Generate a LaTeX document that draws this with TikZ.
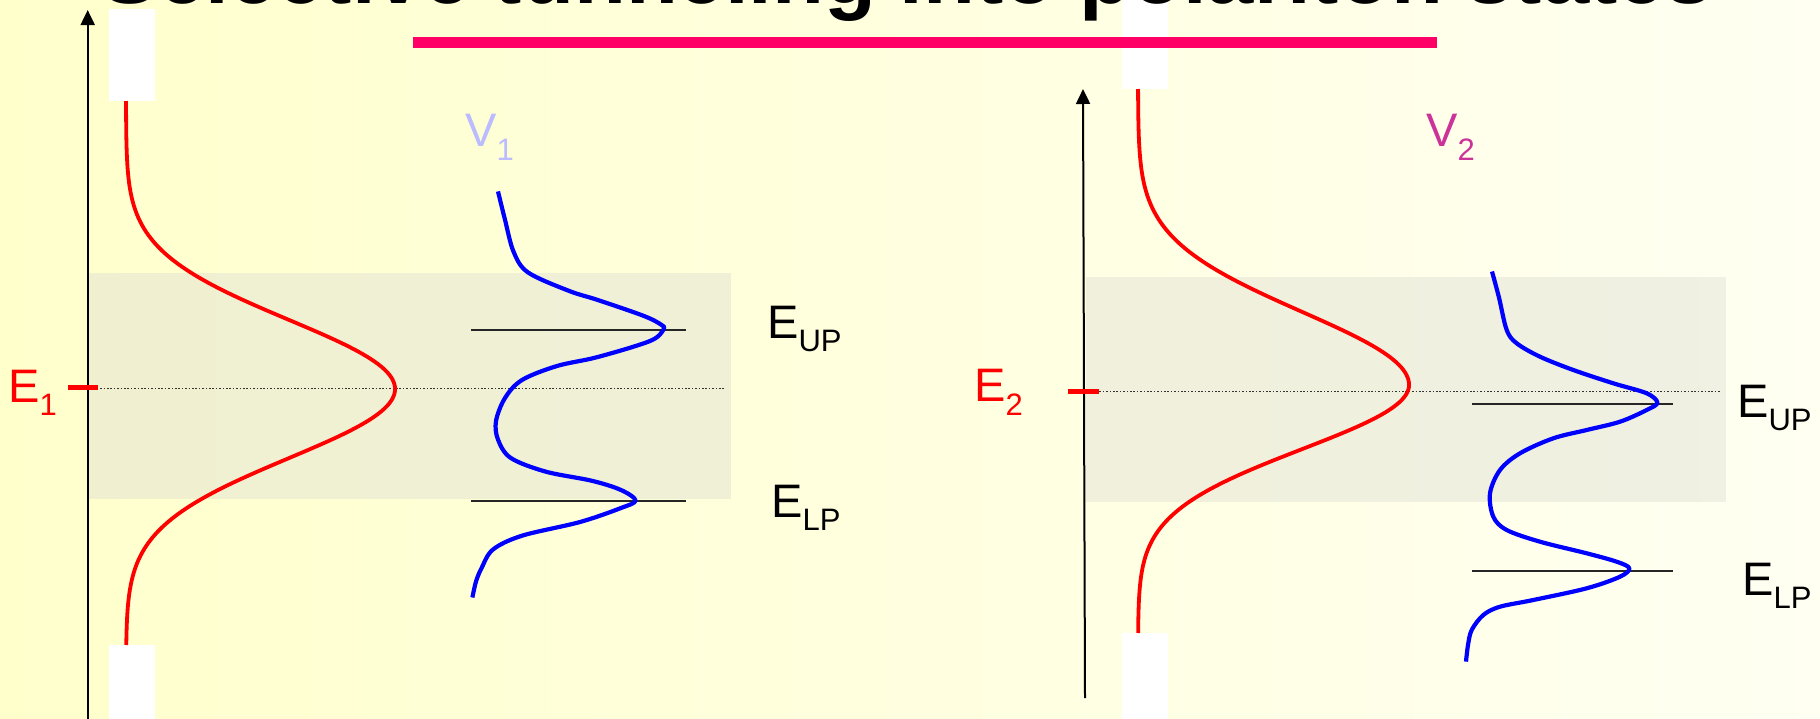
\documentclass[tikz,border=0pt]{standalone}
\usepackage{fontspec}
\setmainfont{Liberation Sans}
\usetikzlibrary{arrows.meta}
\definecolor{bgL}{RGB}{255,255,204}
\definecolor{bgR}{RGB}{255,255,242}
\definecolor{barc}{RGB}{255,0,102}
\definecolor{vone}{RGB}{187,187,255}
\definecolor{vtwo}{RGB}{204,51,153}
\definecolor{boxc}{RGB}{222,222,212}
\definecolor{redc}{RGB}{255,0,0}
\definecolor{bluec}{RGB}{0,0,255}
\newcommand{\mysub}[1]{\raisebox{-13.5pt}{\fontsize{31}{31}\selectfont #1}}
\begin{document}
\begin{tikzpicture}[x=1pt,y=-1pt,
  lbl/.style={inner sep=0pt,anchor=base west,font=\fontsize{47}{47}\selectfont},
  axisline/.style={line width=2pt,black,-{Triangle[length=15pt,width=14pt]}},
  levelline/.style={line width=2pt,black!85},
  dotline/.style={line width=1.5pt,black!80,dash pattern=on 1.5pt off 1.9pt},
  redcurve/.style={line width=3.8pt,redc,line join=round},
  bluecurve/.style={line width=4.2pt,bluec,line join=round},
  tick/.style={line width=5pt,redc},
  graybox/.style={fill=boxc,fill opacity=0.45},
  whitebox/.style={fill=white}]
\useasboundingbox (0,0) rectangle (1820,718);
\clip (0,0) rectangle (1820,718);
\shade[left color=bgL,right color=bgR] (0,0) rectangle (1820,718);

% gray band boxes
\fill[graybox] (88.8,273.4) rectangle (731,499);
\fill[graybox] (1085.9,277) rectangle (1726,502.3);

% white rectangles
\fill[whitebox] (109.3,9.3) rectangle (155.3,100.7);
\fill[whitebox] (109.3,645) rectangle (155.3,720);
\fill[whitebox] (1122,-2) rectangle (1168,89);
\fill[whitebox] (1122,633) rectangle (1168,720);

% title
\node[anchor=base,inner sep=0pt,font=\fontsize{85}{85}\selectfont\bfseries] (title) at (907,3) {Selective tunneling into polariton states};
\fill[barc] (413,36.7) rectangle (1437,47.7);

% dotted levels
\coordinate (d1a) at (90,388.5);
\coordinate (d1b) at (724,388.5);
\coordinate (d2a) at (1096,391.5);
\coordinate (d2b) at (1720,391.5);
\draw[dotline] (d1a) -- (d1b);
\draw[dotline] (d2a) -- (d2b);

% axes
\coordinate (a1b) at (87.7,720);
\coordinate (a1t) at (87.7,10);
\coordinate (a2b) at (1085,698);
\coordinate (a2t) at (1083,89);
\draw[axisline] (a1b) -- (a1t);
\draw[axisline] (a2b) -- (a2t);

% red curves
\draw[redcurve] plot[domain=101:645,samples=220,variable=\t] ({126+269*exp(-0.5*((\t-389)/69)^2)},{\t});
\draw[redcurve] plot[domain=89:633,samples=220,variable=\t] ({1138+271*exp(-0.5*((\t-385)/((\t<385)*73+(\t>=385)*64))^2)},{\t});

% polariton levels
\coordinate (u1a) at (471,329.7); \coordinate (u1b) at (686,329.7);
\coordinate (l1a) at (471,500.5); \coordinate (l1b) at (686,500.5);
\coordinate (u2a) at (1471.8,403.8); \coordinate (u2b) at (1673.2,403.8);
\coordinate (l2a) at (1471.8,570.5); \coordinate (l2b) at (1673.2,570.5);
\draw[levelline] (u1a) -- (u1b);
\draw[levelline] (l1a) -- (l1b);
\draw[levelline] (u2a) -- (u2b);
\draw[levelline] (l2a) -- (l2b);

% blue curves
\draw[bluecurve] plot[smooth,tension=0.55] coordinates {
 (498,191.4) (505,219.8) (513.6,251.8) (528,272.4) (568.8,290.8) (597.8,300)
 (644,316) (661.6,325) (663.4,329.7) (650,341) (597.8,357) (557,366) (522,380)
 (505,398) (496,421) (498,439.6) (510.7,457.9) (545.6,471.6) (592,480.8) (621,490)
 (635.5,500.5) (621,508) (580,522) (522,535.7) (493,549.5) (481.7,567.8)
 (476,581.5) (472.4,597.5)};
\draw[bluecurve] plot[smooth,tension=0.55] coordinates {
 (1492,271.5) (1499,297.6) (1506.7,330) (1516.7,343.3) (1540,356.7) (1573.3,370)
 (1613.3,383.3) (1646.7,393.3) (1657.3,402.7) (1646.7,410) (1620,421.7)
 (1586.7,430) (1553.3,438.3) (1520,453.3) (1500,470) (1490,493.3) (1493.3,516.7)
 (1506.7,530) (1540,541.7) (1586.7,553.3) (1616.7,561.7) (1629.3,568.3)
 (1620,576.7) (1586.7,588.3) (1533.3,600) (1500,606.7) (1483.3,615)
 (1471.7,630) (1468,645) (1466,661.6)};

% ticks
\coordinate (t1a) at (68,387.5); \coordinate (t1b) at (98,387.5);
\coordinate (t2a) at (1068,391.5); \coordinate (t2b) at (1098.6,391.5);
\draw[tick] (t1a) -- (t1b);
\draw[tick] (t2a) -- (t2b);

% labels
\node[lbl,text=redc] (E1) at (8,402) {E\mysub{1}};
\node[lbl,text=redc] (E2) at (974,401.6) {E\mysub{2}};
\node[lbl] (EUP1) at (767,338) {E\mysub{UP}};
\node[lbl] (ELP1) at (771,517.4) {E\mysub{LP}};
\node[lbl] (EUP2) at (1737,417) {E\mysub{UP}};
\node[lbl] (ELP2) at (1742,595) {E\mysub{LP}};
\node[lbl,text=vone] (V1) at (465,146.5) {V\mysub{1}};
\node[lbl,text=vtwo] (V2) at (1426,146.5) {V\mysub{2}};
\end{tikzpicture}
\end{document}
